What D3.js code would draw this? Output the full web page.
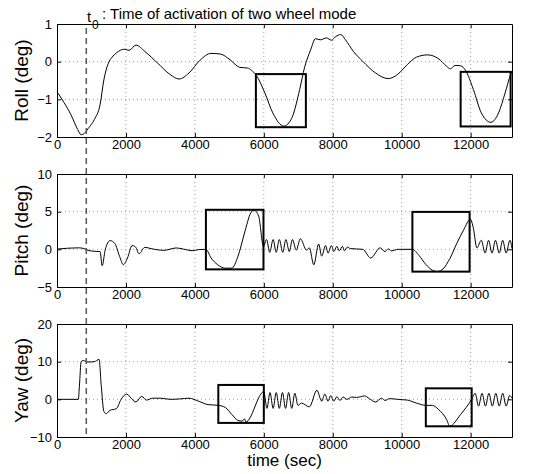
<!DOCTYPE html>
<html>
<head>
<meta charset="utf-8">
<script src="https://cdn.jsdelivr.net/npm/d3@7"></script>
<style>
  body { margin: 0; background: #fff; }
  text { font-family: "Liberation Sans", Arial, sans-serif; fill: #000; }
</style>
</head>
<body>
<div id="chart"></div>
<script>
// time axis ticks
const timeTicks = [0, 2000, 4000, 6000, 8000, 10000, 12000];
const t0 = 850;

// roll (deg)
const rollT = [0, 200, 400, 600, 700, 800, 900, 1080, 1250, 1360, 1490, 1600, 1720, 1950, 2090, 2290, 2550, 2920, 3280, 3540, 3830, 4150, 4470, 4750, 5020, 5300, 5530, 5640, 5780, 6030, 6260, 6580, 6810, 7040, 7180, 7270, 7360, 7500, 7640, 7820, 7960, 8090, 8230, 8370, 8600, 8870, 9240, 9610, 9880, 10160, 10430, 10750, 11080, 11300, 11410, 11550, 11710, 11850, 12080, 12310, 12590, 12810, 13000, 13160, 13200];
const rollV = [-0.80, -1.08, -1.40, -1.80, -1.94, -1.90, -1.78, -1.54, -1.14, -0.48, -0.04, 0.12, 0.23, 0.33, 0.30, 0.44, 0.27, -0.04, -0.34, -0.46, -0.30, 0.04, 0.22, 0.20, 0.05, -0.15, -0.17, -0.23, -0.36, -0.83, -1.36, -1.71, -1.50, -0.74, -0.16, 0.10, 0.32, 0.61, 0.58, 0.63, 0.57, 0.67, 0.72, 0.58, 0.27, 0.01, -0.30, -0.45, -0.34, -0.08, 0.12, 0.18, 0.07, -0.12, -0.19, -0.10, -0.11, -0.23, -0.74, -1.36, -1.61, -1.36, -0.83, -0.34, -0.25];
const rollTicks = [-2, -1, 0, 1];
const rollBoxes = [[5770, 7220, -1.74, -0.33], [11710, 13160, -1.72, -0.27]];

// pitch (deg)
const pitchT = [0, 620, 760, 900, 1080, 1250, 1310, 1400, 1540, 1680, 1815, 1925, 2045, 2180, 2280, 2380, 2550, 2730, 3100, 3460, 3740, 3920, 4110, 4320, 4470, 4660, 4890, 5070, 5250, 5440, 5620, 5710, 5850, 5990, 6080, 6170, 6270, 6360, 6450, 6550, 6640, 6740, 6830, 6940, 7060, 7240, 7320, 7450, 7590, 7680, 7790, 7865, 7960, 8030, 8120, 8190, 8280, 8340, 8420, 8510, 8870, 9100, 9380, 9515, 9610, 9700, 9900, 10310, 10500, 10700, 10900, 11030, 11200, 11400, 11600, 11800, 11990, 12080, 12180, 12310, 12420, 12520, 12620, 12720, 12830, 12930, 13030, 13140, 13200];
const pitchV = [0.03, 0.2, 0.13, -0.13, -0.26, -0.3, -2.16, -0.04, 1.16, 0.76, -0.93, -2.04, -1.15, 0.5, 0.3, -0.58, 0.27, 0.09, -0.13, 0.18, -0.04, -0.18, -0.04, 0.0, -1.15, -2.04, -2.5, -2.5, -0.93, 2.17, 4.82, 5.2, 4.4, 0.4, 1.3, -0.4, 1.3, -0.4, 1.3, -0.4, 1.3, -0.3, 1.3, -0.1, 1.4, -0.1, 0.2, -2.05, 0.7, -0.9, 0.5, -0.5, 0.5, -0.3, 0.4, -0.2, 0.4, -0.2, 0.3, 0.1, 0.0, -1.15, 0.2, -0.3, 0.05, -0.2, 0.0, 0.0, -0.8, -2.0, -2.8, -2.95, -2.6, -1.2, 0.8, 2.6, 4.0, 2.8, 0.2, 1.2, -0.5, 1.2, -0.5, 1.2, -0.5, 1.2, -0.5, 1.2, 0.1];
const pitchTicks = [-5, 0, 5, 10];
const pitchBoxes = [[4320, 5990, -2.66, 5.25], [10310, 11970, -2.96, 4.97]];

// yaw (deg)
const yawT = [0, 620, 650, 700, 760, 900, 1080, 1220, 1285, 1360, 1430, 1540, 1720, 1860, 2020, 2180, 2290, 2460, 2590, 2780, 3010, 3280, 3560, 3830, 4110, 4380, 4680, 4890, 5070, 5250, 5370, 5440, 5480, 6000, 6090, 6180, 6270, 6360, 6450, 6540, 6630, 6720, 6810, 6900, 6990, 7090, 7320, 7540, 7680, 7770, 7865, 7940, 8030, 8120, 8210, 8300, 8410, 8550, 8690, 8920, 9060, 9240, 9420, 9515, 9650, 9880, 10160, 10430, 10700, 10890, 11070, 11300, 11395, 11710, 12030, 12130, 12230, 12330, 12430, 12530, 12630, 12730, 12830, 12930, 13030, 13130, 13200];
const yawV = [0, 0, 3.5, 10.0, 10.3, 9.9, 10.0, 10.6, 3.5, -3.2, -3.8, -2.9, -2.5, 0.0, 1.4, 0.0, -0.7, 0.8, -0.2, 0.3, 0.3, 0.0, 0.1, 0.3, -0.5, -1.4, -1.6, -2.2, -4.0, -5.6, -5.8, -5.2, -6.0, 2.0, -2.4, 1.8, -2.4, 1.8, -2.4, 1.8, -2.4, 1.8, -2.4, 1.6, -1.6, -1.0, -2.0, 2.4, -0.5, 1.4, -0.5, 1.0, -0.5, 0.7, -0.3, 0.6, 0.0, 0.6, 0.5, 0.9, 0.2, -0.7, 0.3, -0.3, 0.2, 0.0, -0.2, -1.0, -1.6, -1.6, -2.7, -5.3, -7.1, -4.0, 0.0, 1.6, -1.8, 1.6, -1.8, 1.6, -1.8, 1.6, -1.8, 1.6, -1.8, 1.0, 0.3];
const yawTicks = [-10, 0, 10, 20];
const yawBoxes = [[4680, 6000, -6.26, 3.82], [10700, 12030, -7.16, 2.92]];

const width = 551, height = 474;
const left = 57, right = 512;

const panels = [
  {label: "Roll (deg)", t: rollT, v: rollV, ticks: rollTicks, boxes: rollBoxes, top: 24, bottom: 137},
  {label: "Pitch (deg)", t: pitchT, v: pitchV, ticks: pitchTicks, boxes: pitchBoxes, top: 174, bottom: 287},
  {label: "Yaw (deg)", t: yawT, v: yawV, ticks: yawTicks, boxes: yawBoxes, top: 324, bottom: 437}
];

const svg = d3.select("#chart").append("svg")
  .attr("width", width)
  .attr("height", height);

svg.append("rect").attr("width", width).attr("height", height).attr("fill", "#fff");

const x = d3.scaleLinear().domain([0, 13200]).range([left, right]);

panels.forEach(function (p) {
  const y = d3.scaleLinear()
    .domain([p.ticks[0], p.ticks[p.ticks.length - 1]])
    .range([p.bottom, p.top]);
  const g = svg.append("g");

  // dotted grid
  g.selectAll(".vgrid").data(timeTicks.slice(1)).enter().append("line")
    .attr("x1", d => x(d)).attr("x2", d => x(d))
    .attr("y1", p.top).attr("y2", p.bottom)
    .attr("stroke", "#888").attr("stroke-width", 0.8).attr("stroke-dasharray", "1,3");
  g.selectAll(".hgrid").data(p.ticks.slice(1, -1)).enter().append("line")
    .attr("x1", left).attr("x2", right)
    .attr("y1", d => y(d)).attr("y2", d => y(d))
    .attr("stroke", "#888").attr("stroke-width", 0.8).attr("stroke-dasharray", "1,3");

  // axes, MATLAB style with inward ticks
  const xb = g.append("g").attr("transform", "translate(0," + p.bottom + ")")
    .call(d3.axisBottom(x).tickValues(timeTicks).tickSizeInner(-4).tickSizeOuter(0).tickPadding(3).tickFormat(d3.format("d")));
  const xt = g.append("g").attr("transform", "translate(0," + p.top + ")")
    .call(d3.axisTop(x).tickValues(timeTicks).tickSizeInner(-4).tickSizeOuter(0).tickFormat(""));
  const yl = g.append("g").attr("transform", "translate(" + left + ",0)")
    .call(d3.axisLeft(y).tickValues(p.ticks).tickSizeInner(-4).tickSizeOuter(0).tickPadding(5).tickFormat(d3.format("d")));
  const yr = g.append("g").attr("transform", "translate(" + right + ",0)")
    .call(d3.axisRight(y).tickValues(p.ticks).tickSizeInner(-4).tickSizeOuter(0).tickFormat(""));
  [xb, xt, yl, yr].forEach(function (a) {
    a.selectAll("path").attr("stroke", "#000").attr("stroke-width", 1);
    a.selectAll("line").attr("stroke", "#000");
    a.selectAll("text").style("font-size", "13px").style("font-family", "Liberation Sans, Arial, sans-serif").attr("fill", "#000");
  });

  // curve
  const line = d3.line()
    .x((d, i) => x(p.t[i]))
    .y(d => y(d))
    .curve(d3.curveMonotoneX);
  g.append("path").datum(p.v)
    .attr("d", line)
    .attr("fill", "none").attr("stroke", "#000").attr("stroke-width", 1);

  // highlight boxes
  g.selectAll(".box").data(p.boxes).enter().append("rect")
    .attr("x", d => x(d[0])).attr("width", d => x(d[1]) - x(d[0]))
    .attr("y", d => y(d[3])).attr("height", d => y(d[2]) - y(d[3]))
    .attr("fill", "none").attr("stroke", "#000").attr("stroke-width", 2);

  svg.append("text")
    .attr("transform", "translate(28," + ((p.top + p.bottom) / 2) + ") rotate(-90)")
    .attr("text-anchor", "middle")
    .style("font-size", "19px")
    .text(p.label);
});

// t0 marker
svg.append("line")
  .attr("x1", x(t0)).attr("x2", x(t0))
  .attr("y1", 28).attr("y2", 437)
  .attr("stroke", "#555").attr("stroke-width", 1.5).attr("stroke-dasharray", "6,4");

svg.append("text").attr("x", 87).attr("y", 22).style("font-size", "15px").text("t");
svg.append("text").attr("x", 92).attr("y", 29).style("font-size", "12px").text("0");
svg.append("text").attr("x", 102).attr("y", 19).style("font-size", "15px").text(": Time of activation of two wheel mode");

svg.append("text")
  .attr("x", (left + right) / 2).attr("y", 466)
  .attr("text-anchor", "middle")
  .style("font-size", "17px")
  .text("time (sec)");
</script>
</body>
</html>
